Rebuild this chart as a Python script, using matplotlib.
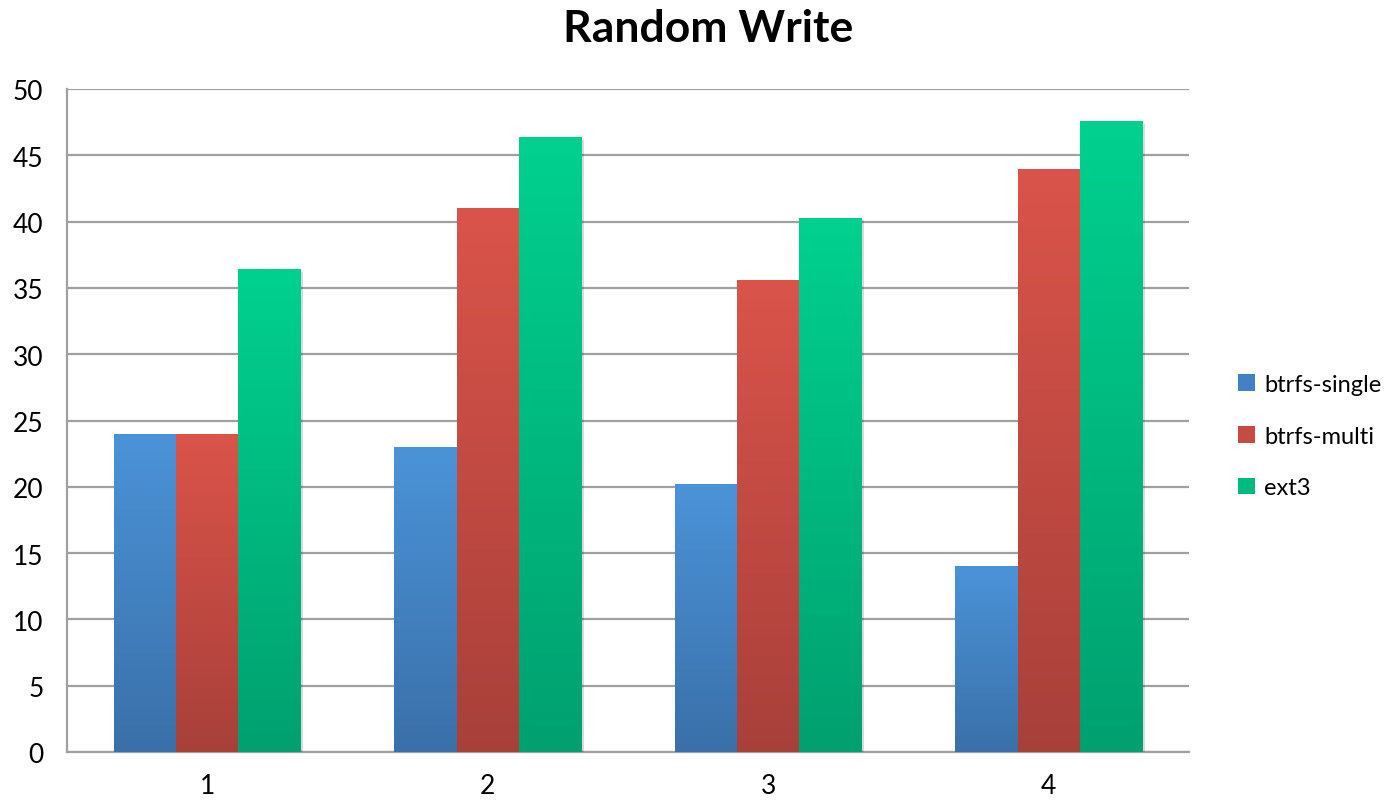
import numpy as np
import matplotlib
matplotlib.use("Agg")
import matplotlib.pyplot as plt
from matplotlib.colors import LinearSegmentedColormap
from matplotlib.patches import Patch
import matplotlib.patheffects as pe
import matplotlib.transforms as mtransforms

categories = ["1", "2", "3", "4"]
series_names = ["btrfs-single", "btrfs-multi", "ext3"]
btrfs_single = [24.0, 23.0, 20.2, 14.0]
btrfs_multi = [24.0, 41.0, 35.6, 44.0]
ext3 = [36.4, 46.4, 40.3, 47.6]
yticks = [0, 5, 10, 15, 20, 25, 30, 35, 40, 45, 50]

values = [btrfs_single, btrfs_multi, ext3]
top_colors = ["#4b93d8", "#da544a", "#00d18e"]
bot_colors = ["#3a70a9", "#a8403a", "#00a06f"]
legend_colors = ["#4282c4", "#c64b43", "#00bb80"]

plt.rcParams['font.family'] = ['Lato', 'DejaVu Sans']

fig = plt.figure(figsize=(13.89, 8.04), dpi=100)
ax = fig.add_axes([67/1389, 51/804, 1122/1389, 663/804])

x = np.arange(1, len(categories) + 1)
w = 0.222
grad = np.linspace(0, 1, 256).reshape(-1, 1)
for i, (vals, tc, bc) in enumerate(zip(values, top_colors, bot_colors)):
    cmap = LinearSegmentedColormap.from_list(f"g{i}", [bc, tc])
    offs = (i - 1) * w
    bars = ax.bar(x + offs, vals, width=w, color=tc, zorder=3, linewidth=0,
                  path_effects=[pe.SimplePatchShadow(offset=(2, -2), shadow_rgbFace="#000000", alpha=0.15), pe.Normal()])
    for b in bars:
        x0 = b.get_x()
        im = ax.imshow(grad, cmap=cmap, origin="lower", aspect="auto",
                       extent=(x0, x0 + b.get_width(), 0, b.get_height()), zorder=4)
        im.set_clip_path(b)

ax.set_xlim(0.5, 4.5)
ax.set_ylim(0, 50)
ax.set_yticks(yticks)
ax.set_xticks(x)
ax.set_xticklabels(categories)
ax.yaxis.grid(True, color="#a0a0a0", linewidth=1.6, zorder=0)
ax.set_axisbelow(True)
for s in ["top", "right"]:
    ax.spines[s].set_visible(False)
for s in ["left", "bottom"]:
    ax.spines[s].set_color("#a0a0a0")
    ax.spines[s].set_linewidth(1.6)
ax.tick_params(axis="both", length=0, labelsize=19, colors="#000000")
ax.tick_params(axis="y", pad=17)
ax.tick_params(axis="x", pad=15)
shift = mtransforms.ScaledTranslation(0, -3/100, fig.dpi_scale_trans)
for lab in ax.get_yticklabels():
    lab.set_verticalalignment("center")
    lab.set_transform(lab.get_transform() + shift)

fig.text(708/1389, 1 - 29/804, "Random Write", ha="center", va="center",
         fontsize=32, fontweight="bold")

handles = [Patch(facecolor=c, edgecolor="none") for c in legend_colors]
leg = fig.legend(handles, series_names, loc="center left",
                 bbox_to_anchor=(1238/1389, 1 - 437/804), frameon=False,
                 fontsize=17, handlelength=0.7, handleheight=0.7,
                 handletextpad=0.4, labelspacing=1.3, borderaxespad=0, borderpad=0)

fig.savefig("out.png", dpi=100)
